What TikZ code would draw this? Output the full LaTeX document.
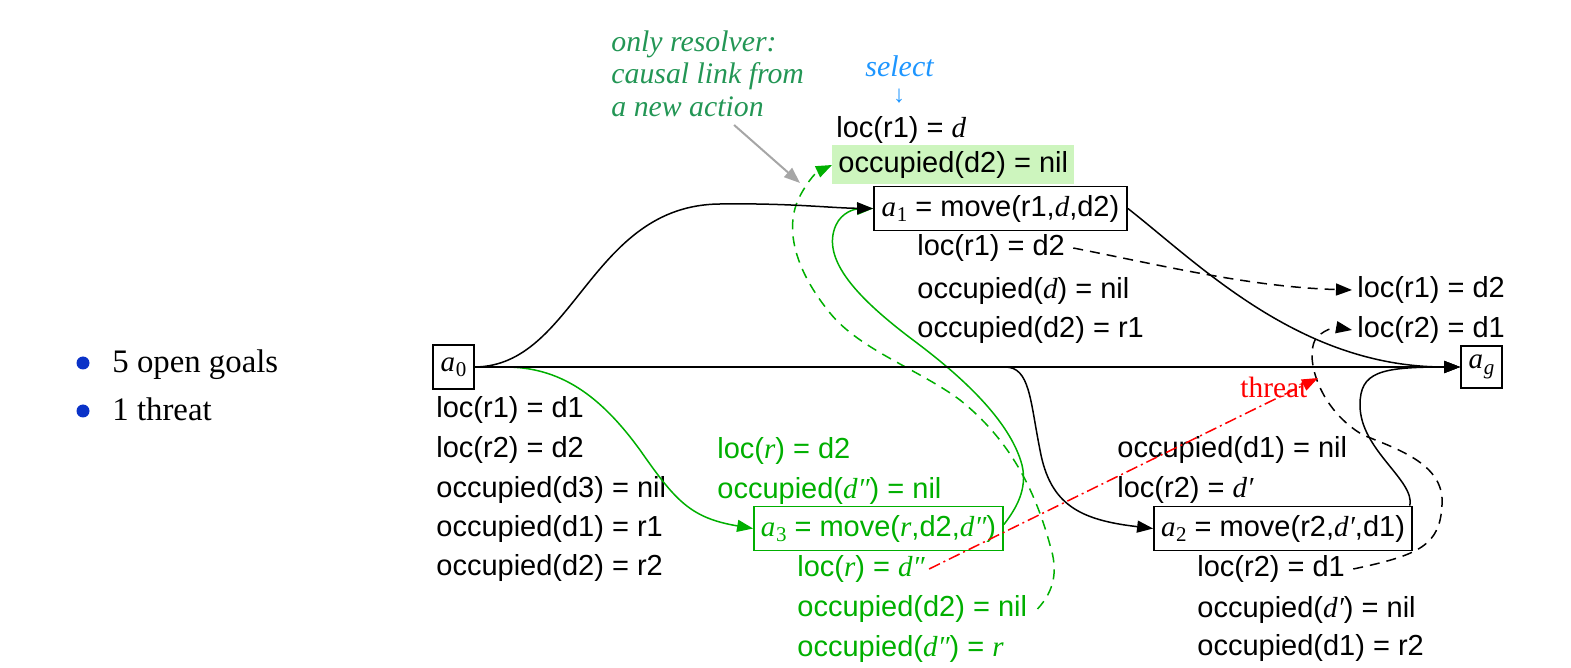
\documentclass[tikz,border=0pt]{standalone}
\usepackage{fontspec}
\setmainfont{Liberation Serif}
\setsansfont{Liberation Sans}
\usetikzlibrary{arrows.meta}
\definecolor{gr}{RGB}{0,175,0}
\definecolor{notegreen}{RGB}{35,150,85}
\definecolor{hl}{RGB}{205,245,190}
\definecolor{selblue}{RGB}{30,150,255}
\definecolor{bulblue}{RGB}{10,50,200}
\newcommand\vi[1]{{\rmfamily\itshape #1}}
\newcommand\act[1]{{\rmfamily\itshape a\kern0.3pt\raisebox{-0.4ex}{\fontsize{10.5}{10}\selectfont\upshape #1}}}
\newcommand\actg{{\rmfamily\itshape a\kern0.3pt\raisebox{-0.4ex}{\fontsize{10.5}{10}\selectfont g}}}
\begin{document}
\begin{tikzpicture}[x=0.5pt,y=-0.5pt,
  st/.style={anchor=west, inner sep=0pt, yshift=-1.5pt, font=\sffamily\fontsize{14.5}{17}\selectfont},
  gst/.style={st, text=gr},
  abox/.style={draw, line width=0.9pt, inner xsep=2pt, inner ysep=0pt, minimum height=22pt, font=\sffamily\fontsize{14.5}{17}\selectfont},
  link/.style={line width=0.75pt, -{Triangle[length=8pt,width=6pt]}},
  dlink/.style={link, dash pattern=on 5pt off 3.5pt},
  glink/.style={link, draw=gr, -{Triangle[length=8pt,width=6pt,fill=gr]}},
  gdlink/.style={glink, dash pattern=on 5pt off 3.5pt},
  note/.style={anchor=base west, inner sep=0pt, text=notegreen, font=\rmfamily\itshape\fontsize{14.9}{17}\selectfont},
  bul/.style={circle, fill=bulblue, inner sep=0pt, minimum size=6.5pt},
  bultext/.style={anchor=base west, inner sep=0pt, font=\rmfamily\fontsize{16.4}{19}\selectfont}
]
\useasboundingbox (0,0) rectangle (1571,668);

% bullets
\node[bul] (bul1) at (83,363) {};
\node[bultext] (bt1) at (112,373) {5 open goals};
\node[bul] (bul2) at (83,411) {};
\node[bultext] (bt2) at (112,421) {1 threat};

% boxes
\node[abox, minimum width=20.5pt] (a0) at (453.5,367) {\act{0}};
\node[abox, minimum width=20.5pt, minimum height=21pt] (ag) at (1481.5,367) {\actg};
\node[abox, minimum width=126.5pt] (a1) at (1000.5,208.5) {\act{1} = move(r1,\vi{d},d2)};
\node[abox, minimum width=129pt] (a2) at (1283,528.5) {\act{2} = move(r2,\vi{d′},d1)};
\node[abox, minimum width=124.5pt, draw=gr, text=gr] (a3) at (878.5,528.5) {\act{3} = move(\vi{r},d2,\vi{d″})};

% a0 effects
\node[st] (s1) at (436,407) {loc(r1) = d1};
\node[st] (s2) at (436,447) {loc(r2) = d2};
\node[st] (s3) at (436,487) {occupied(d3) = nil};
\node[st] (s4) at (436,526) {occupied(d1) = r1};
\node[st] (s5) at (436,565) {occupied(d2) = r2};

% a1 preconditions
\node[st] (a1p1) at (836,127) {loc(r1) = \vi{d}};
\node[st, fill=hl, inner xsep=3pt, minimum height=19.5pt, yshift=1.5pt] (a1p2) at (832,165) {occupied(d2) = nil};
% a1 effects
\node[st] (a1e1) at (917,245) {loc(r1) = d2};
\node[st] (a1e2) at (917,288) {occupied(\vi{d}) = nil};
\node[st] (a1e3) at (917,327) {occupied(d2) = r1};

% goals
\node[st] (g1) at (1357,287) {loc(r1) = d2};
\node[st] (g2) at (1357,327) {loc(r2) = d1};

% a3
\node[gst] (a3p1) at (717,448) {loc(\vi{r}) = d2};
\node[gst] (a3p2) at (717,488) {occupied(\vi{d″}) = nil};
\node[gst] (a3e1) at (797,566) {loc(\vi{r}) = \vi{d″}};
\node[gst] (a3e2) at (797,606) {occupied(d2) = nil};
\node[gst] (a3e3) at (797,646) {occupied(\vi{d″}) = \vi{r}};

% a2
\node[st] (a2p1) at (1117,447) {occupied(d1) = nil};
\node[st] (a2p2) at (1117,487) {loc(r2) = \vi{d′}};
\node[st] (a2e1) at (1197,566) {loc(r2) = d1};
\node[st] (a2e2) at (1197,607) {occupied(\vi{d′}) = nil};
\node[st] (a2e3) at (1197,645) {occupied(d1) = r2};

% annotations
\node[note] (n1) at (611,52) {only resolver:};
\node[note] (n2) at (611,84) {causal link from};
\node[note] (n3) at (611,117) {a new action};
\node[anchor=base west, inner sep=0pt, text=selblue, font=\rmfamily\itshape\fontsize{15}{17}\selectfont] (sel) at (865,77) {select};
\node[inner sep=0pt, text=selblue, font=\rmfamily\fontsize{12}{13}\selectfont] (selarr) at (899,96) {↓};
\node[anchor=base west, inner sep=0pt, text=red, font=\rmfamily\fontsize{14.7}{17}\selectfont] (thr) at (1240,398) {threat};

\coordinate (ptr) at (800,183);
\coordinate (thrend) at (1318,378);

% green connectors (drawn first)
\draw[glink] (a0.east) -- (505,367) .. controls (560,367) and (600,395) .. (640,450)
  .. controls (675,500) and (690,518) .. (a3.west);
\draw[glink] ([yshift=2pt]a3.east) .. controls (1015,510) and (1028,490) .. (1022,465)
  .. controls (1010,420) and (960,375) .. (913,340)
  .. controls (860,300) and (820,260) .. (836,225)
  .. controls (842,212) and (855,209) .. (a1.west);
\draw[gdlink] ([xshift=5pt]a3e2.east) .. controls (1055,590) and (1058,570) .. (1050,545)
  .. controls (1035,490) and (1010,440) .. (960,400)
  .. controls (920,370) and (860,350) .. (830,313)
  .. controls (795,270) and (785,230) .. (798,200)
  .. controls (805,185) and (815,173) .. (a1p2.west);

% black connectors
\draw[link] (a0.east) .. controls (575,366) and (590,205) .. (720,204)
  .. controls (790,203) and (830,208) .. (a1.west);
\draw[link] (a0.east) -- (ag.west);
\draw[link] (a1.east) .. controls (1200,265) and (1300,367) .. (ag.west);
\draw[link] ([xshift=-1.5pt]a2.north east) .. controls (1415,480) and (1360,450) .. (1360,405)
  .. controls (1360,372) and (1380,367) .. (ag.west);
\draw[link] (a0.east) -- (1005,367) .. controls (1030,367) and (1030,400) .. (1040,450)
  .. controls (1050,505) and (1080,520) .. (a2.west);

\draw[dlink] ([xshift=4pt]a1e1.east) .. controls (1160,265) and (1250,287) .. ([xshift=-2.5pt]g1.west);
\draw[dlink] ([xshift=4pt]a2e1.east) .. controls (1420,555) and (1440,545) .. (1442,505)
  .. controls (1445,465) and (1400,450) .. (1363,435)
  .. controls (1320,410) and (1305,360) .. (1315,340)
  .. controls (1322,330) and (1335,327) .. ([xshift=-2.5pt]g2.west);

% threat
\draw[red, line width=0.75pt, dash pattern=on 6pt off 2pt on 1pt off 2pt,
  -{Triangle[length=8pt,width=6pt]}] ([xshift=2pt]a3e1.east) -- (thrend);

% pointer from note
\draw[gray!70, line width=1pt, -{Triangle[length=8pt,width=6pt]}] ([xshift=-15pt,yshift=-4pt]n3.base east) -- (ptr);

\end{tikzpicture}
\end{document}
